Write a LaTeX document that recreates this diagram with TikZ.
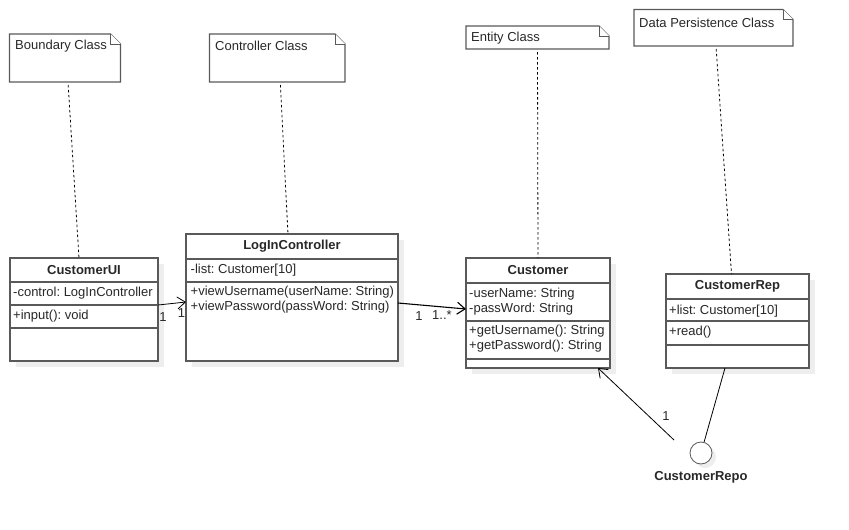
\documentclass[tikz,border=0pt]{standalone}
\usepackage{fontspec}
\setmainfont{Liberation Sans}
\frenchspacing
\usetikzlibrary{positioning,calc,shadows,arrows.meta}
\definecolor{myframe}{RGB}{89,89,89}
\definecolor{mytext}{RGB}{40,40,40}
\definecolor{myshadow}{RGB}{238,238,238}
\newcommand\notefold[1]{
  \draw[noteline] (#1.north west) -- ([xshift=-10pt]#1.north east)
    -- ([yshift=-10pt]#1.north east) -- (#1.south east) -- (#1.south west) -- cycle;
  \draw[noteline,line width=0.6pt] ([xshift=-10pt]#1.north east)
    -- ([xshift=-10pt,yshift=-10pt]#1.north east) -- ([yshift=-10pt]#1.north east);
}

\begin{document}
\begin{tikzpicture}[x=1pt,y=-1pt,
		font=\fontsize{13}{15}\selectfont,
		every node/.style={text=mytext},
		classbox/.style={
		  draw=myframe,
		  line width=1.3pt,
		  fill=white,
		  anchor=north west,
		  inner sep=0pt,
		  outer sep=0pt,
		  general shadow={fill=myshadow,shadow xshift=6pt,shadow yshift=-6pt}},
		classtitle/.style={font=\fontsize{13}{15}\selectfont\bfseries,minimum height=24pt,inner sep=0pt},
		member/.style={anchor=west,align=left,inner sep=0pt},
		rowline/.style={draw=myframe,line width=1.3pt},
		notebox/.style={anchor=north west,inner sep=0pt,outer sep=0pt},
		notetext/.style={anchor=west,inner sep=0pt},
		noteline/.style={draw=myframe,line width=1.3pt,fill=white},
		anchorline/.style={dash pattern=on 2.5pt off 2.5pt,line width=0.8pt,shorten <=3pt},
		assoc/.style={draw=black,line width=0.8pt,-{Straight Barb[length=8pt,width=12pt]}},
		mult/.style={inner sep=0pt},
		iface/.style={circle,draw=myframe,line width=0.8pt,fill=white,minimum size=22pt,inner sep=0pt,
		  general shadow={fill=myshadow,shadow xshift=4pt,shadow yshift=-4pt}},
		]
		\useasboundingbox (0,0) rectangle (849,530);
		% notes
		\node[notebox,minimum width=111,minimum height=48] (BNote) at (9.5,34) {};
		\notefold{BNote}
		\node[notetext] at ([xshift=5.5pt,yshift=-12pt]BNote.north west) {Boundary Class};
		\node[notebox,minimum width=135.5,minimum height=48] (CNote) at (209.5,34) {};
		\notefold{CNote}
		\node[notetext] at ([xshift=5.5pt,yshift=-12pt]CNote.north west) {Controller Class};
		\node[notebox,minimum width=143,minimum height=23] (ENote) at (466,26) {};
		\notefold{ENote}
		\node[notetext] at ([xshift=5pt,yshift=-12pt]ENote.north west) {Entity Class};
		\node[notebox,minimum width=159,minimum height=36.5] (DNote) at (634,9.5) {};
		\notefold{DNote}
		\node[notetext] at ([xshift=5pt,yshift=-13pt]DNote.north west) {Data Persistence Class};
		% classes
		\node[classbox,minimum width=148,minimum height=103] (UI) at (10,258) {};
		\foreach \d in {24,47,70}
		  \draw[rowline] ([yshift=-\d pt]UI.north west) -- ([yshift=-\d pt]UI.north east);
		\node[classtitle,below=0pt of UI.north] {CustomerUI};
		\node[member] at ([xshift=3pt,yshift=-35pt]UI.north west) {-control: LogInController};
		\node[member] at ([xshift=3pt,yshift=-58pt]UI.north west) {+input(): void};
		\node[classbox,minimum width=212,minimum height=127] (Ctrl) at (186,234) {};
		\foreach \d in {25,48}
		  \draw[rowline] ([yshift=-\d pt]Ctrl.north west) -- ([yshift=-\d pt]Ctrl.north east);
		\node[classtitle,below=0pt of Ctrl.north] {LogInController};
		\node[member] at ([xshift=4.5pt,yshift=-36pt]Ctrl.north west) {-list: Customer[10]};
		\node[member] at ([xshift=4.5pt,yshift=-65.5pt]Ctrl.north west)
		  {+viewUsername(userName: String)\\+viewPassword(passWord: String)};
		\node[classbox,minimum width=144,minimum height=110] (Cust) at (466,258) {};
		\foreach \d in {25,63,101}
		  \draw[rowline] ([yshift=-\d pt]Cust.north west) -- ([yshift=-\d pt]Cust.north east);
		\node[classtitle,below=0pt of Cust.north] {Customer};
		\node[member] at ([xshift=3pt,yshift=-43.5pt]Cust.north west) {-userName: String\\-passWord: String};
		\node[member] at ([xshift=3pt,yshift=-80.5pt]Cust.north west) {+getUsername(): String\\+getPassword(): String};
		\node[classbox,minimum width=143,minimum height=94] (Rep) at (666,274) {};
		\foreach \d in {25,47,71}
		  \draw[rowline] ([yshift=-\d pt]Rep.north west) -- ([yshift=-\d pt]Rep.north east);
		\node[classtitle,below=0pt of Rep.north] {CustomerRep};
		\node[member] at ([xshift=3pt,yshift=-37pt]Rep.north west) {+list: Customer[10]};
		\node[member] at ([xshift=3pt,yshift=-58pt]Rep.north west) {+read()};
		% interface
		\node[iface] (Repo) at (701,453) {};
		\node[font=\fontsize{13}{15}\selectfont\bfseries,inner sep=0pt,below=7pt of Repo] (RepoName) {CustomerRepo};
		\coordinate (RepoTail) at (674,440);
		% note anchors
		\draw[anchorline] ([xshift=3pt]BNote.south) -- ([xshift=-5pt]UI.north);
		\draw[anchorline] ([xshift=3pt]CNote.south) -- ([xshift=-4pt]Ctrl.north);
		\draw[anchorline] (ENote.south) -- (Cust.north);
		\draw[anchorline] ([xshift=2.5pt]DNote.south) -- ([xshift=-6pt]Rep.north);
		% associations
		\draw[assoc] ([yshift=-47pt]UI.north east) -- ([yshift=-68pt]Ctrl.north west);
		\node[mult] at ([xshift=5pt,yshift=-59pt]UI.north east) {1};
		\node[mult] at ([xshift=-4.5pt,yshift=-79pt]Ctrl.north west) {1};
		\draw[assoc,line width=1.1pt] ([yshift=-69pt]Ctrl.north east) -- ([yshift=-51pt]Cust.north west);
		\node[mult] at ([xshift=21pt,yshift=-82pt]Ctrl.north east) {1};
		\node[mult] at ([xshift=-24pt,yshift=-57pt]Cust.north west) {1..*};
		\draw[line width=0.8pt] ([xshift=-12.5pt]Rep.south) -- (Repo);
		\draw[assoc] (RepoTail) -- ([xshift=-12pt]Cust.south east);
		\node[mult] at (666,416) {1};
\end{tikzpicture}
\end{document}
